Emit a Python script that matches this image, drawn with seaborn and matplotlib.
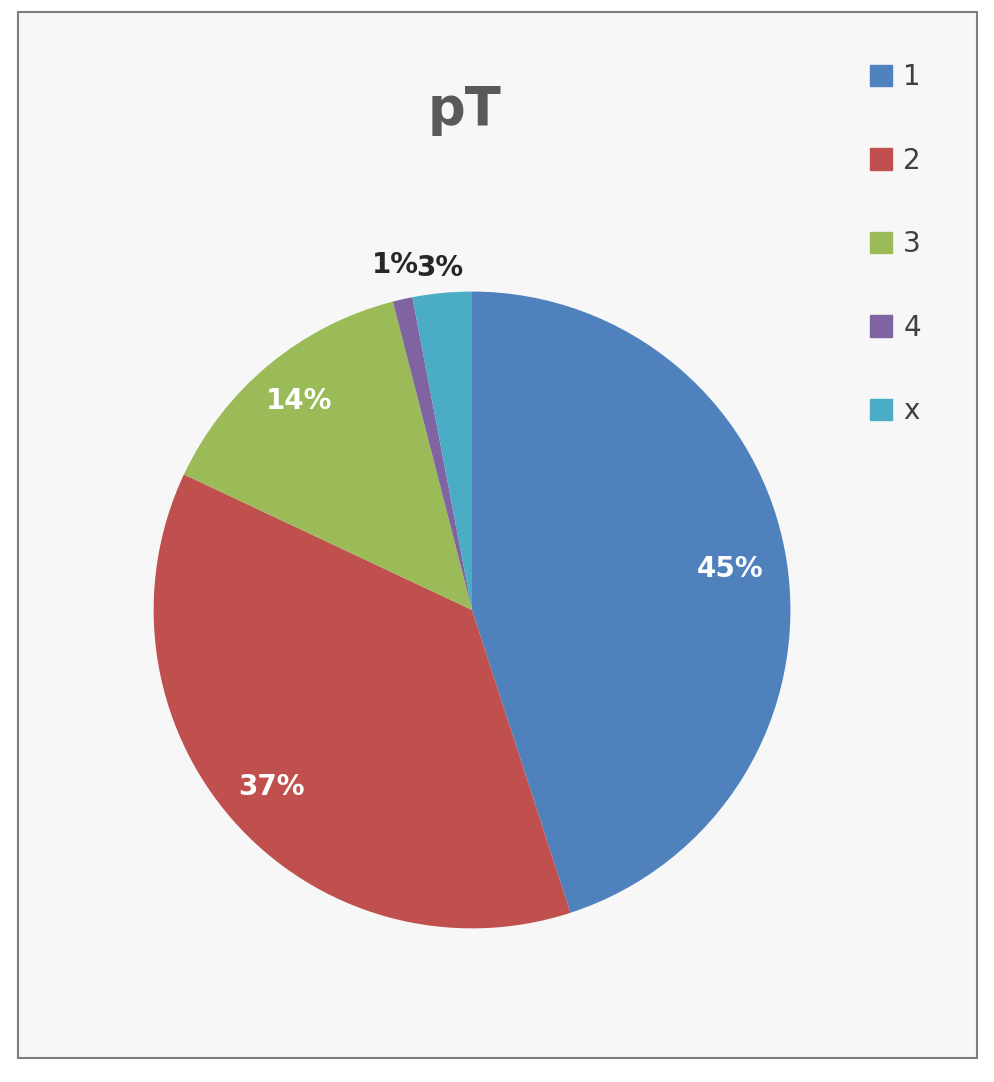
import numpy as np
import matplotlib.pyplot as plt
import seaborn as sns
from matplotlib.patches import Rectangle

sns.set_style("white")
plt.rcParams['font.family'] = ['DejaVu Sans']

categories = ['1', '2', '3', '4', 'x']
shares = [45, 37, 14, 1, 3]
colors = ['#4F81BD', '#C0504D', '#9BBB59', '#8064A2', '#4BACC6']
label_radius = [0.82, 0.84, 0.85, 1.11, 1.08]
label_colors = ['white', 'white', 'white', '#262626', '#262626']

fig = plt.figure(figsize=(9.95, 10.82), dpi=100)
fig.patch.set_facecolor('white')
frame = Rectangle((18 / 995, 1 - 1058 / 1082), 959 / 995, 1046 / 1082,
                  transform=fig.transFigure, facecolor='#f7f7f7',
                  edgecolor='#7f7f7f', linewidth=1.5, zorder=-1)
fig.patches.append(frame)

ax = fig.add_axes([0.0744, 0.0684, 0.8, 0.7357])
ax.patch.set_alpha(0)
wedges, _ = ax.pie(shares, colors=colors, startangle=90, counterclock=False,
                   wedgeprops=dict(edgecolor='none'))
ax.set_aspect('equal')

for w, val, r, c in zip(wedges, shares, label_radius, label_colors):
    ang = np.deg2rad((w.theta1 + w.theta2) / 2)
    ax.text(r * np.cos(ang), r * np.sin(ang), f'{val}%', ha='center', va='center',
            fontsize=20, fontweight='bold', color=c)

fig.text(465 / 995, 1 - 110 / 1082, 'pT', ha='center', va='center',
         fontsize=38, fontweight='bold', color='#595959')

handles = [Rectangle((0, 0), 1, 1, color=c) for c in colors]
fig.legend(handles, categories, loc='upper left', bbox_to_anchor=(845 / 995, 1 - 38 / 1082),
           frameon=False, fontsize=20, handlelength=0.8, handleheight=0.8,
           labelspacing=2.0, handletextpad=0.4, labelcolor='#404040')

fig.savefig('out.png', dpi=100)
